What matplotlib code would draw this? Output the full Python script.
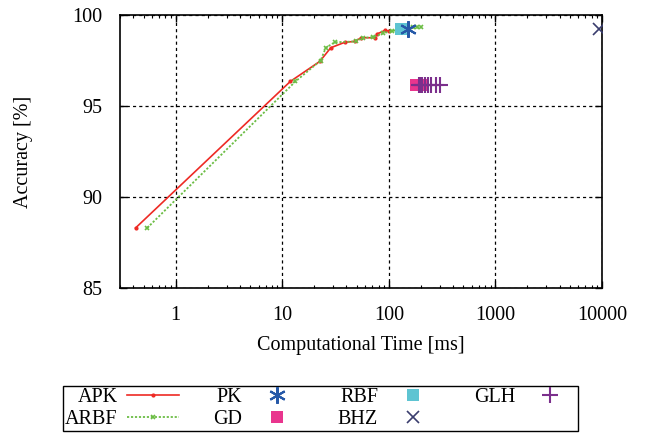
import matplotlib
matplotlib.use("Agg")
import matplotlib.pyplot as plt
from matplotlib.ticker import FixedLocator, NullFormatter, LogLocator

plt.rcParams['font.family'] = ['Liberation Serif', 'DejaVu Serif']
plt.rcParams['font.size'] = 14.5

# data
apk_x = [0.42, 11.9, 22.5, 28.5, 38.6, 48, 55, 74, 77, 91.5, 100]
apk_y = [88.3, 96.35, 97.45, 98.2, 98.5, 98.55, 98.75, 98.75, 98.95, 99.15, 99.12]

arbf_x = [0.54, 13.3, 22.9, 25.6, 31, 49, 57, 71, 88.5, 108, 125, 150, 170, 185, 200]
arbf_y = [88.3, 96.35, 97.5, 98.2, 98.5, 98.55, 98.75, 98.78, 99.0, 99.12, 99.2, 99.28, 99.32, 99.32, 99.32]

pk_x = [150]
pk_y = [99.25]

gd_x = [178, 185, 192, 198, 205]
gd_y = [96.15] * 5

rbf_x = [130]
rbf_y = [99.25]

bhz_x = [9400]
bhz_y = [99.25]

glh_x = [190, 198, 205, 220, 233, 251, 279, 300]
glh_y = [96.15] * 8

fig = plt.figure(figsize=(6.64, 4.36), dpi=100)
ax = fig.add_axes([0.1807, 0.3394, 0.7259, 0.6262])

ax.plot(apk_x, apk_y, color='#ee2a24', lw=1.2, marker='.', ms=4, label='APK', zorder=3)
ax.plot(arbf_x, arbf_y, color='#6cbd45', lw=1.3, ls=(0, (1.2, 1.0)), marker='x', ms=3.5,
        mew=1.2, label='ARBF', zorder=3)
ax.plot(pk_x, pk_y, ls='none', marker=(6, 2, 0), ms=12, mew=1.5, color='#2659a8',
        label='PK', zorder=6)
ax.plot(gd_x, gd_y, ls='none', marker='s', ms=8, color='#e9358e', mew=0, label='GD', zorder=4)
ax.plot(rbf_x, rbf_y, ls='none', marker='s', ms=8, color='#5ec4d2', mew=0, label='RBF', zorder=5)
ax.plot(bhz_x, bhz_y, ls='none', marker='x', ms=9, mew=1.2, color='#3a3d6e', label='BHZ', zorder=4)
ax.plot(glh_x, glh_y, ls='none', marker='+', ms=11, mew=1.5, color='#7b2f8c', label='GLH', zorder=5)

ax.set_xscale('log')
ax.set_xlim(0.3, 10000)
ax.set_ylim(85, 100)
ax.xaxis.set_major_locator(FixedLocator([1, 10, 100, 1000, 10000]))
ax.xaxis.set_major_formatter(matplotlib.ticker.FixedFormatter(['1', '10', '100', '1000', '10000']))
ax.xaxis.set_minor_locator(LogLocator(base=10, subs=range(2, 10)))
ax.xaxis.set_minor_formatter(NullFormatter())
ax.set_yticks([85, 90, 95, 100])

ax.tick_params(which='both', direction='in', top=True, right=True, color='black')
ax.tick_params(which='major', length=5, width=1, pad=13)
ax.tick_params(which='minor', length=2.5, width=0.8)
for s in ax.spines.values():
    s.set_linewidth(1.2)

ax.grid(True, which='major', color='black', lw=0.9, ls=(0, (2.5, 2.5)))

ax.set_xlabel('Computational Time [ms]', labelpad=8)
ax.set_ylabel('Accuracy [%]', labelpad=28)

leg = fig.legend(loc='upper center', bbox_to_anchor=(0.483, 0.1147), ncol=4,
                 markerfirst=False, numpoints=1, frameon=True, fancybox=False,
                 edgecolor='black', framealpha=1, handlelength=2.6, handletextpad=0.45,
                 columnspacing=1.7, labelspacing=0.15, borderpad=0.1, borderaxespad=0)
leg.get_frame().set_linewidth(1.0)

fig.savefig('out.png', dpi=100)
